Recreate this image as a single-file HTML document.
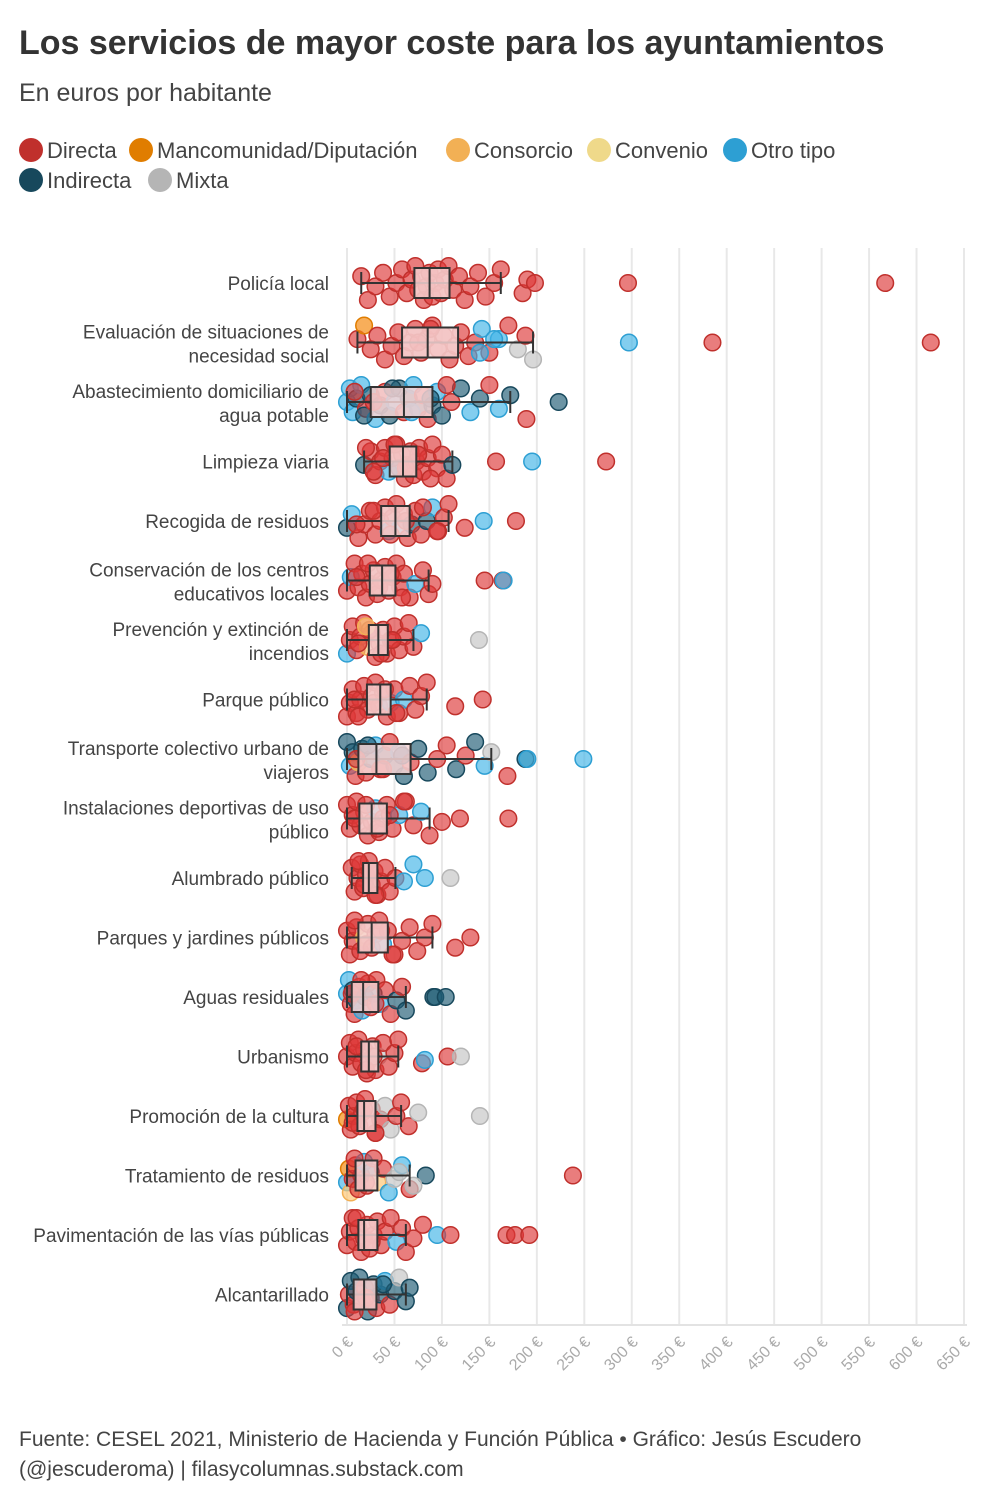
<!DOCTYPE html>
<html><head><meta charset="utf-8">
<style>
html,body{margin:0;padding:0;background:#fff;}
svg{display:block;font-family:"Liberation Sans",sans-serif;}
</style></head>
<body>
<svg id="chart" width="1000" height="1500" viewBox="0 0 1000 1500" xmlns="http://www.w3.org/2000/svg">
<text x="19" y="54" font-size="34" font-weight="bold" fill="#333">Los servicios de mayor coste para los ayuntamientos</text>
<text x="19" y="101" font-size="25" fill="#444">En euros por habitante</text>
<g id="legend"></g>
<g id="grid"></g>
<g id="points"></g>
<g id="boxes"></g>
<g id="labels"></g>
<g id="ticks"></g>
<text x="19" y="1446" font-size="21" fill="#444">Fuente: CESEL 2021, Ministerio de Hacienda y Función Pública • Gráfico: Jesús Escudero</text>
<text x="19" y="1476" font-size="21" fill="#444">(@jescuderoma) | filasycolumnas.substack.com</text>
</svg>
<script>
const categories=[["Policía local"],["Evaluación de situaciones de","necesidad social"],["Abastecimiento domiciliario de","agua potable"],["Limpieza viaria"],["Recogida de residuos"],["Conservación de los centros","educativos locales"],["Prevención y extinción de","incendios"],["Parque público"],["Transporte colectivo urbano de","viajeros"],["Instalaciones deportivas de uso","público"],["Alumbrado público"],["Parques y jardines públicos"],["Aguas residuales"],["Urbanismo"],["Promoción de la cultura"],["Tratamiento de residuos"],["Pavimentación de las vías públicas"],["Alcantarillado"]];
const q1=[71,58,25,45,36,24,23,21,12,13,17,12,5,15,11,9,12,7];
const med=[87,85,60,59,51,37,33,35,31,26,23,26,17,23,18,18,18,18];
const q3=[108,117,90,73,66,51,43,46,67,42,32,43,33,33,30,32,32,31];
const lo=[15,11,0,18,0,0,0,0,0,0,5,0,0,0,0,0,0,0];
const hi=[162,196,172,111,107,86,70,84,152,87,51,90,62,54,57,66,62,62];
const pointValues=[
[15,22,30,38,45,52,58,63,68,72,75,78,81,84,87,90,93,96,99,103,107,112,118,124,130,138,146,155,162,185,190,198,296,567],
[11,18,25,32,40,47,54,60,66,72,78,84,90,96,102,108,114,120,128,135,142,150,160,170,180,188,196,297,385,615,75,88,140,155],
[0,3,6,10,15,20,25,30,35,40,45,50,55,60,65,70,75,80,85,90,95,100,110,120,130,140,150,160,172,189,223,8,18,28,48,68,88,105],
[18,25,30,35,40,44,48,52,55,58,61,64,67,70,73,76,80,85,90,95,100,105,111,157,195,273,20,28,38,50,62,75,88],
[0,5,12,18,24,30,35,40,44,48,52,56,60,64,68,72,78,84,90,96,102,107,124,144,178,10,28,46,62,80,95],
[0,4,8,12,16,20,24,28,32,36,40,44,48,52,56,60,66,72,80,86,145,164,165,10,22,34,46,58,90],
[0,3,6,10,14,18,22,26,30,34,38,42,46,50,55,60,65,70,78,139,12,24,36,48,20],
[0,3,6,10,14,18,22,26,30,34,38,42,46,50,55,60,66,72,78,84,114,143,12,28,40,52,8],
[0,3,6,9,12,16,20,25,30,35,40,45,50,55,60,67,75,85,95,105,115,125,135,145,152,169,188,190,249,10,22,38,58],
[0,3,6,10,14,18,22,26,30,34,38,42,48,55,62,70,78,87,100,119,170,8,20,32,45,60],
[5,8,11,14,17,20,23,26,29,32,36,40,45,51,70,82,109,12,18,24,30,60],
[0,3,6,10,14,18,22,26,30,34,38,43,50,58,66,74,82,90,114,130,8,20,36,48],
[0,2,4,6,8,10,13,16,19,22,25,28,31,35,40,46,52,58,62,91,93,104,5,15,30],
[0,3,6,9,12,15,18,21,24,27,30,33,38,44,50,54,79,106,120,82,10,20,28],
[0,2,4,7,10,13,16,19,22,26,30,35,40,46,52,57,65,75,140,6,18,30],
[0,2,4,6,9,12,15,18,21,25,28,32,38,44,50,58,66,83,238,70,55,8,20],
[0,3,6,9,12,15,18,21,24,28,32,36,40,46,52,58,62,70,80,95,109,168,177,192,10,26],
[0,2,4,7,10,13,16,19,22,25,28,31,35,40,45,50,55,62,66,8,20,38]];
const pointTypes=[
"DDDDDDDDDDDDDDDDDDDDDDDDDDDDDDDDDD",
"DNDDDDDDDDDDDDDDDDDDODODMDMODDDDOO",
"OOOIODIOIDIOIDIOIDDIOIDIOIDOIDIDIDIOID",
"IDDDDODDIDDDDDDDDDDDDDIDODDDDDDDD",
"IODDDDDDODDODDIDDIODDDDODDDDDDD",
"DODDDDDDDDDDDDDDDODDDDODDDDDD",
"ODDDDDCDDDDDDDDDDDOMDDDDC",
"DDDDDDDDDDDDODDODDDDDDDDDDD",
"IOIDCIDIODIDIOIDIIDDIDIOMDIOODIDI",
"DDDDDDDDODDDDODDODDDDDDDDD",
"DDDDDDDDDDDDDDOOMDDDDO",
"DDDDDCDDDDODDDDDDDDDDDDD",
"OODIDIDOIDDIDODDIDIIIIDDD",
"DDDDDDDDDDDMDDDDDDMODDD",
"NDDDDDDDDDDDMMDDDMMDDD",
"ONCDDDDODIDCDOMODIDMMDD",
"DDDDDDDDDDDDDDODDDDODDDDDD",
"IDIDIIDDIDIDIODIMIIDDI"];
const colors={D:["rgba(221,55,55,0.65)","#c0302c"],O:["rgba(64,180,230,0.65)","#2d9fd3"],I:["rgba(29,91,115,0.65)","#17485c"],M:["rgba(200,200,200,0.7)","#b5b5b5"],N:["rgba(245,140,20,0.7)","#e07d00"],C:["rgba(253,200,120,0.7)","#f2b055"],V:["rgba(253,240,180,0.8)","#efd98a"]};
const ticks=[0,50,100,150,200,250,300,350,400,450,500,550,600,650];
const NS="http://www.w3.org/2000/svg";
const x0=347,x1=964,maxV=650,y0=283,rowStep=59.5;
const xs=v=>x0+(v/maxV)*(x1-x0);
const ys=i=>y0+i*rowStep;
function mk(tag,attrs,parent){const e=document.createElementNS(NS,tag);for(const k in attrs)e.setAttribute(k,attrs[k]);parent.appendChild(e);return e;}
const legendItems=[["Directa","D",19,150],["Mancomunidad/Diputación","N",129,150],["Consorcio","C",446,150],["Convenio","V",587,150],["Otro tipo","O",723,150],["Indirecta","I",19,180],["Mixta","M",148,180]];
const lg=document.getElementById('legend');
legendItems.forEach(it=>{
  const g=mk('g',{},lg);
  
  
  mk('circle',{cx:it[2]+12,cy:it[3],r:12,fill:colors[it[1]][1]},g);
  const t=mk('text',{x:it[2]+28,y:it[3]+8,'font-size':22,fill:'#444'},g);t.textContent=it[0];
});
const gr=document.getElementById('grid');
ticks.forEach(t=>{
  const l=mk('line',{x1:xs(t),x2:xs(t),y1:248,y2:1325,stroke:'#e8e8e8','stroke-width':2},gr);
  
  
});
const ax=mk('line',{x1:x0-5,x2:x1+3,y1:1325,y2:1325,stroke:'#e3e3e3','stroke-width':2},gr);


const tk=document.getElementById('ticks');
ticks.forEach(t=>{
  const tx=mk('text',{x:0,y:0,'font-size':16,fill:'#aaa','text-anchor':'end',transform:`translate(${xs(t)+7},${1343}) rotate(-45)`},tk);
  tx.textContent=t+' €';
  
  
});
const pg=document.getElementById('points');
pointValues.forEach((vals,ci)=>{
  vals.forEach((v,i)=>{
    const tp=pointTypes[ci][i]||'D';
    const outlier=v>hi[ci]+30;
    const jy=outlier?0:(((i*7+3+ci)%11)/10-0.5)*34;
    const c=mk('circle',{cx:xs(v),cy:ys(ci)+jy,r:8.3,fill:colors[tp][0],stroke:colors[tp][1],'stroke-width':1.5},pg);
    
    
  });
});
const bg=document.getElementById('boxes');
categories.forEach((c,i)=>{
  const y=ys(i);
  const g=mk('g',{},bg);
  
  
  mk('line',{x1:xs(lo[i]),x2:xs(hi[i]),y1:y,y2:y,stroke:'#333','stroke-width':2},g);
  mk('line',{x1:xs(lo[i]),x2:xs(lo[i]),y1:y-11,y2:y+11,stroke:'#333','stroke-width':2},g);
  mk('line',{x1:xs(hi[i]),x2:xs(hi[i]),y1:y-11,y2:y+11,stroke:'#333','stroke-width':2},g);
  mk('rect',{x:xs(q1[i]),y:y-15,width:xs(q3[i])-xs(q1[i]),height:30,fill:'rgba(246,212,212,0.85)',stroke:'#333','stroke-width':2},g);
  mk('line',{x1:xs(med[i]),x2:xs(med[i]),y1:y-15,y2:y+15,stroke:'#333','stroke-width':2},g);
});
const lb=document.getElementById('labels');
categories.forEach((c,i)=>{
  const y=ys(i);
  c.forEach((line,k)=>{
    const yy=c.length===1?y+7:y-4+k*24;
    const t=mk('text',{x:329,y:yy,'font-size':19,fill:'#444','text-anchor':'end'},lb);
    t.textContent=line;
    
    
  });
});
</script>
</body></html>
